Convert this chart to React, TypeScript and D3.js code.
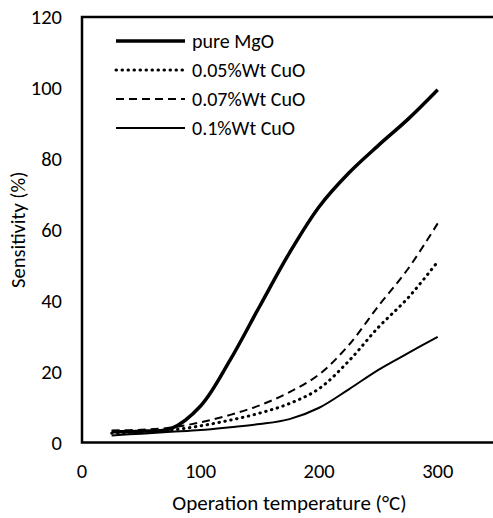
import React from "react";
import * as d3 from "d3";

const temps = [25, 50, 75, 100, 125, 150, 175, 200, 225, 250, 275, 300];
const pureMgO = [3.0, 3.2, 3.9, 10.3, 23.3, 38.5, 53.5, 66.5, 76, 83.8, 91.2, 99.5];
const cuo005 = [2.6, 3.0, 3.5, 4.7, 6.3, 8.3, 11, 15.2, 23, 32.5, 40.8, 51];
const cuo007 = [3.4, 3.6, 4.2, 5.7, 7.8, 10.5, 14.2, 19.2, 27.5, 38.5, 49, 61.8];
const cuo01 = [2.0, 2.5, 3.0, 3.5, 4.3, 5.2, 6.6, 9.8, 15, 20.5, 25.2, 29.8];

const seriesNames = ["pure MgO", "0.05%Wt CuO", "0.07%Wt CuO", "0.1%Wt CuO"];
const xTicks = [0, 100, 200, 300];
const yTicks = [0, 20, 40, 60, 80, 100, 120];

const styles = [
  { width: 3.5, dash: "none", cap: "butt" },
  { width: 3, dash: "0.5 5.5", cap: "round" },
  { width: 2, dash: "8 5", cap: "butt" },
  { width: 2, dash: "none", cap: "butt" },
];

const FONT = "Carlito, Calibri, Lato, sans-serif";
const FS = 20.5;

export default function App() {
  const W = 493, H = 518;
  const left = 82, top = 17, bottom = 442.5, right = 497;
  const x = d3.scaleLinear().domain([0, 350]).range([left, right]);
  const y = d3.scaleLinear().domain([0, 120]).range([bottom, top]);
  const all = [pureMgO, cuo005, cuo007, cuo01];
  const line = d3
    .line<number>()
    .x((_, i) => x(temps[i]))
    .y((d) => y(d))
    .curve(d3.curveCatmullRom.alpha(0.5));

  return (
    <svg width={W} height={H} style={{ position: "absolute", left: 0, top: 0, background: "#fff" }}>
      <rect x={0} y={0} width={W} height={H} fill="#fff" />
      {all.map((s, i) => (
        <path
          key={i}
          d={line(s) || ""}
          fill="none"
          stroke="#000"
          strokeWidth={styles[i].width}
          strokeDasharray={styles[i].dash}
          strokeLinecap={styles[i].cap as any}
        />
      ))}
      <rect x={left} y={top} width={right - left} height={bottom - top} fill="none" stroke="#000" strokeWidth={2.5} />
      {yTicks.map((t) => (
        <text key={t} x={62} y={y(t)} dy="0.35em" textAnchor="end" fontFamily={FONT} fontSize={FS} fill="#000">
          {t}
        </text>
      ))}
      {xTicks.map((t) => (
        <text key={t} x={x(t)} y={471} dy="0.35em" textAnchor="middle" fontFamily={FONT} fontSize={FS} fill="#000">
          {t}
        </text>
      ))}
      <text x={(left + right) / 2} y={503} dy="0.35em" textAnchor="middle" fontFamily={FONT} fontSize={21} fill="#000">
        Operation temperature (°C)
      </text>
      <text
        transform={`translate(18, ${(top + bottom) / 2}) rotate(-90)`}
        dy="0.35em"
        textAnchor="middle"
        fontFamily={FONT}
        fontSize={FS}
        fill="#000"
      >
        Sensitivity (%)
      </text>
      {seriesNames.map((n, i) => {
        const ly = 41 + i * 29;
        return (
          <g key={n}>
            <line
              x1={116}
              x2={185}
              y1={ly}
              y2={ly}
              stroke="#000"
              strokeWidth={styles[i].width}
              strokeDasharray={styles[i].dash}
              strokeLinecap={styles[i].cap as any}
            />
            <text x={192} y={ly} dy="0.35em" fontFamily={FONT} fontSize={20} fill="#000">
              {n}
            </text>
          </g>
        );
      })}
    </svg>
  );
}
